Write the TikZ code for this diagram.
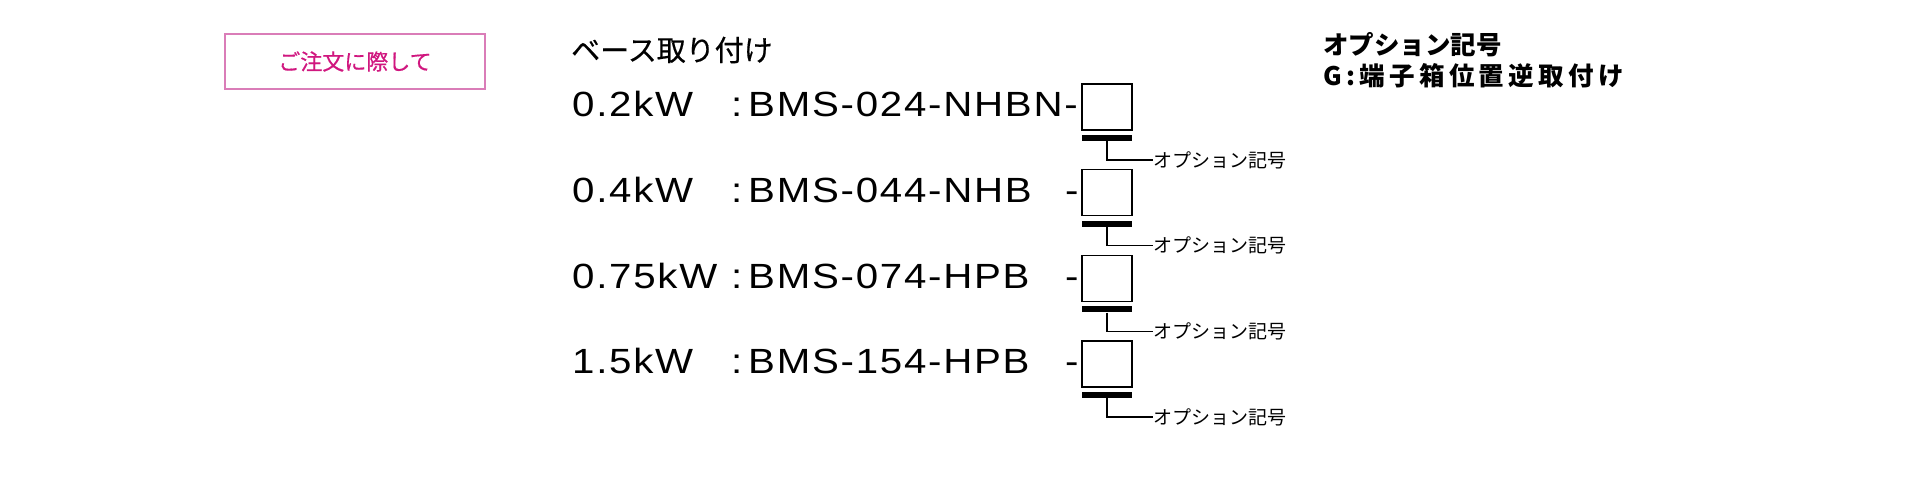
\documentclass[tikz,border=0pt]{standalone}
\usepackage{fontspec}
\setmainfont{Liberation Sans}
\newfontfamily\jp{Noto Sans CJK JP}
\newfontfamily\jpm[FakeBold=0.5]{Noto Sans CJK JP}
\newfontfamily\jpsp[LetterSpace=17]{Noto Sans CJK JP}
\newfontfamily\latmd[FakeStretch=1.15,LetterSpace=5]{Liberation Sans}
\definecolor{pinktxt}{HTML}{D0177F}
\definecolor{pinkline}{HTML}{DA7DB8}
\tikzset{
  jptitle/.style={font=\jpm\fontsize{29}{31}\selectfont, inner sep=0pt, anchor=west},
  jpopt/.style={font=\jp\bfseries\fontsize{25.5}{27}\selectfont, inner sep=0pt, anchor=west},
  jpoptsp/.style={font=\jpsp\bfseries\fontsize{25.5}{27}\selectfont, inner sep=0pt, anchor=west},
  mdtxt/.style={font=\latmd\fontsize{35}{37}\selectfont, inner sep=0pt, anchor=base west},
  optbox/.style={draw=black, line width=1.5pt, minimum width=50pt, minimum height=46pt, inner sep=0pt},
  optbar/.style={fill=black, minimum width=50pt, minimum height=6pt, inner sep=0pt},
  optlbl/.style={font=\jp\fontsize{19}{21}\selectfont, inner sep=0pt, anchor=west},
  leader/.style={draw=black, line width=1.2pt},
  notebox/.style={draw=pinkline, line width=1.3pt, minimum width=260pt, minimum height=55pt, inner sep=0pt},
  notetxt/.style={text=pinktxt, font=\jpm\fontsize{22}{24}\selectfont, inner sep=0pt}
}
\begin{document}
\begin{tikzpicture}[x=1pt,y=-1pt]
\useasboundingbox (0,0) rectangle (1920,500);
\node[notebox] (note) at (355,61.5) {};
\node[notetxt] (notet) at (note.center) {ご注文に際して};
\node[jptitle] (base) at (571,50) {ベース取り付け};
\node[jpopt] (optt) at (1323,44.5) {オプション記号};
\node[jpoptsp] (optg) at (1323,75.5) {G:端子箱位置逆取付け};
% rows
\foreach \i/\y/\pw/\mdl/\dsh in {1/84/0.2kW/BMS-024-NHBN-/,2/169.7/0.4kW/BMS-044-NHB/-,3/255.3/0.75kW/BMS-074-HPB/-,4/341/1.5kW/BMS-154-HPB/-}{
  \node[mdtxt] (pw\i) at (572,\y+32.7) {\pw};
  \node[mdtxt] (col\i) at (731,\y+32.7) {:};
  \node[mdtxt] (mdl\i) at (748,\y+32.7) {\mdl};
  \node[mdtxt] (dsh\i) at (1065,\y+32.7) {\dsh};
  \node[optbox] (box\i) at (1107,\y+23) {};
  \node[optbar] (bar\i) at (1107,\y+54) {};
  \node[optlbl] (lbl\i) at (1153,\y+76) {オプション記号};
  \draw[leader] (bar\i.south) |- (lbl\i.west);
}
\end{tikzpicture}
\end{document}
